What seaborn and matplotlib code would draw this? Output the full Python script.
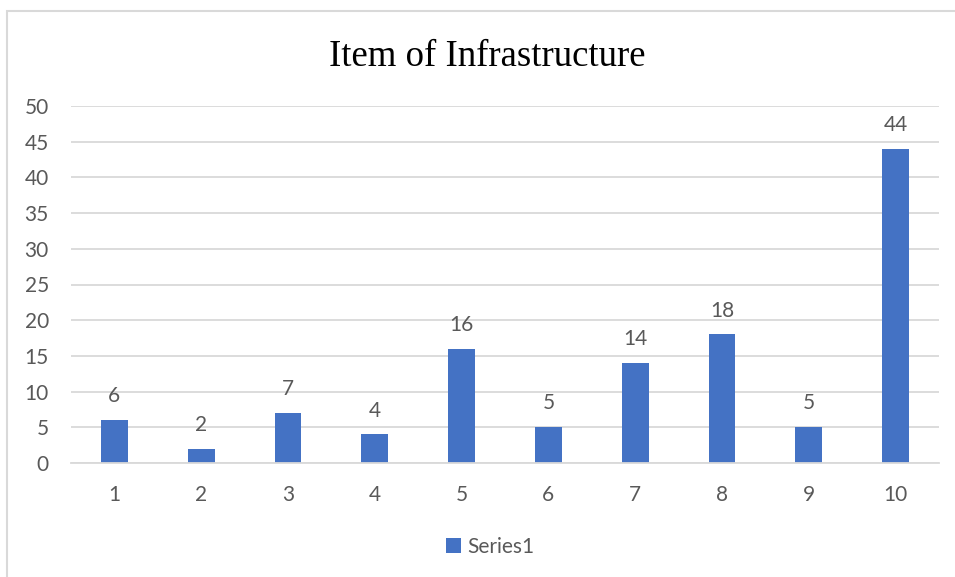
import matplotlib
matplotlib.use("Agg")
import matplotlib.pyplot as plt
from matplotlib.patches import Rectangle
import seaborn as sns
import pandas as pd

categories = ["1", "2", "3", "4", "5", "6", "7", "8", "9", "10"]
values = [6, 2, 7, 4, 16, 5, 14, 18, 5, 44]
series_name = "Series1"
y_ticks = [0, 5, 10, 15, 20, 25, 30, 35, 40, 45, 50]

df = pd.DataFrame({"cat": categories, "val": values, "series": [series_name] * len(values)})

sns.set_theme(style="white")
plt.rcParams["font.family"] = ["Lato", "DejaVu Sans"]

text_color = "#595959"
grid_color = "#d9d9d9"
bar_color = "#4472C4"

fig = plt.figure(figsize=(9.55, 5.77), dpi=100)
ax = fig.add_axes([71 / 955, 1 - 463 / 577, 868 / 955, (463 - 106) / 577])

sns.barplot(data=df, x="cat", y="val", hue="series", palette=[bar_color],
            width=0.31, dodge=False, ax=ax, saturation=1, order=categories,
            linewidth=0, edgecolor=bar_color)

ax.set_ylim(0, 50)
ax.set_xlim(-0.5, len(categories) - 0.5)
ax.set_yticks(y_ticks)
ax.set_yticklabels([str(t) for t in y_ticks])
ax.yaxis.grid(True, color=grid_color, linewidth=1.3)
ax.set_axisbelow(True)
for s in ["top", "right", "left"]:
    ax.spines[s].set_visible(False)
ax.spines["bottom"].set_color(grid_color)
ax.spines["bottom"].set_linewidth(1.3)
ax.tick_params(axis="both", length=0, labelsize=15, colors=text_color)
ax.tick_params(axis="x", pad=16)
ax.tick_params(axis="y", pad=16)
ax.set_xlabel("")
ax.set_ylabel("")

for c in ax.containers:
    ax.bar_label(c, padding=10, fontsize=15, color=text_color)

fig.text(487 / 955, 1 - 66 / 577, "Item of Infrastructure", ha="center", va="baseline",
         fontsize=26.5, family=["Liberation Serif", "DejaVu Serif"], color="black")

leg = ax.legend(loc="center", bbox_to_anchor=(490 / 955, 1 - 547 / 577),
                bbox_transform=fig.transFigure, frameon=False, fontsize=15,
                handlelength=0.7, handleheight=0.7, handletextpad=0.3)
for t in leg.get_texts():
    t.set_color(text_color)

fig.patches.append(Rectangle((6.5 / 955, -0.5), 2, 0.5 + (1 - 10.5 / 577),
                             transform=fig.transFigure, fill=False,
                             edgecolor=grid_color, linewidth=1.5))

fig.savefig("out.png", dpi=100)
